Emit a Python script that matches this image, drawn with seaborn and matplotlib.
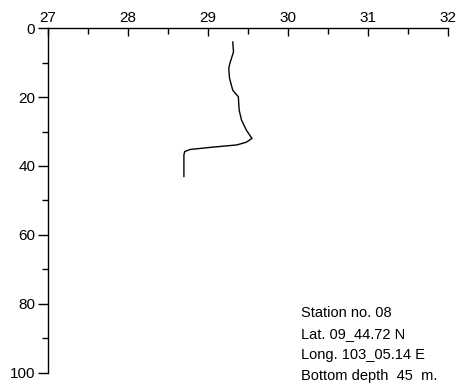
import matplotlib
matplotlib.use("Agg")
import matplotlib.pyplot as plt
import seaborn as sns
import pandas as pd
from matplotlib.ticker import MultipleLocator

# temperature profile
depth = [4.0, 6.9, 10.2, 11.7, 14.6, 18.0, 18.9, 19.9, 23.8, 26.7, 29.6, 32.0,
         33.1, 33.9, 34.6, 35.2, 35.8, 36.8, 43.1]
temp = [29.31, 29.32, 29.275, 29.26, 29.27, 29.31, 29.34, 29.38, 29.39, 29.42,
        29.48, 29.55, 29.48, 29.36, 29.03, 28.78, 28.71, 28.70, 28.70]

station_info = ["Station no. 08", "Lat. 09_44.72 N", "Long. 103_05.14 E",
                "Bottom depth  45  m."]

df = pd.DataFrame({"Temp": temp, "Depth": depth})

sns.set_style("white")
plt.rcParams["font.family"] = ["Liberation Sans", "DejaVu Sans"]
plt.rcParams["text.color"] = "black"

fig = plt.figure(figsize=(4.6, 3.9), dpi=100)
ax = fig.add_axes([0.104, 0.0436, 0.870, 0.8846])

sns.lineplot(data=df, x="Temp", y="Depth", sort=False, estimator=None,
             color="black", lw=1.0, ax=ax)

ax.set_xlim(27, 32)
ax.set_ylim(100, 0)
ax.xaxis.tick_top()
ax.xaxis.set_major_locator(MultipleLocator(1))
ax.xaxis.set_minor_locator(MultipleLocator(0.5))
ax.yaxis.set_major_locator(MultipleLocator(20))
ax.yaxis.set_minor_locator(MultipleLocator(10))
ax.tick_params(axis="x", which="major", direction="in", length=6, width=1,
               labelsize=11, pad=2, top=True, bottom=False,
               color="black", labelcolor="black")
ax.tick_params(axis="x", which="minor", direction="in", length=4, width=1,
               top=True, bottom=False, color="black")
ax.tick_params(axis="y", which="major", direction="out", length=7, width=1,
               labelsize=11, pad=2, left=True, color="black",
               labelcolor="black")
ax.tick_params(axis="y", which="minor", direction="out", length=4, width=1,
               left=True, color="black")
ax.set_xlabel("")
ax.set_ylabel("")

for s in ["right", "bottom"]:
    ax.spines[s].set_visible(False)
for s in ["left", "top"]:
    ax.spines[s].set_color("black")
    ax.spines[s].set_linewidth(1.0)

for i, line in enumerate(station_info):
    fig.text(0.655, 1 - (313 + 21 * i) / 390, line, fontsize=10.5,
             ha="left", va="center", color="black")

plt.savefig("out.png", dpi=100)
